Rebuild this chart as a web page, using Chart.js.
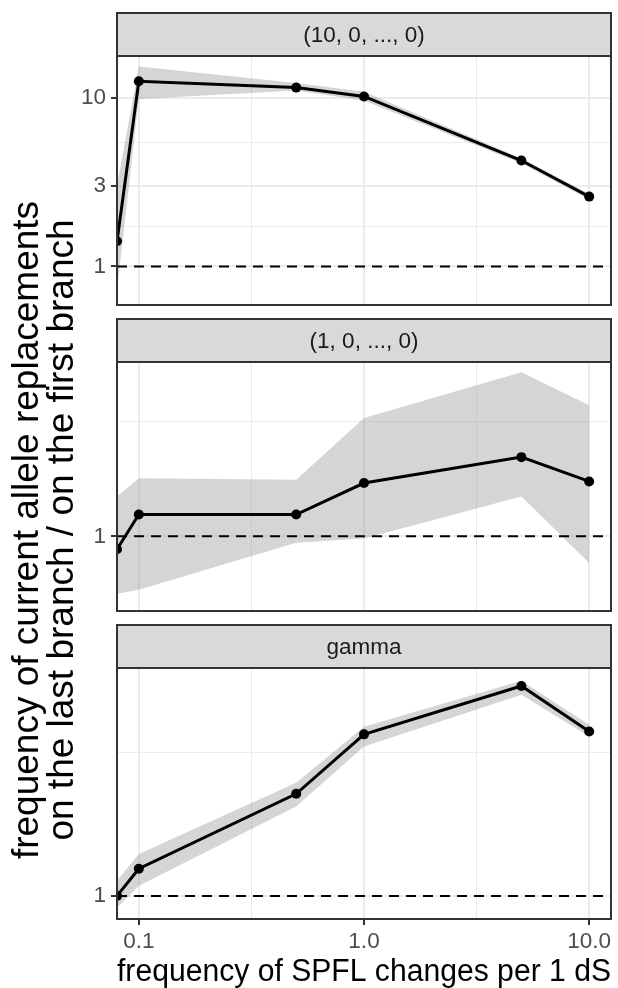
<!DOCTYPE html>
<html>
<head>
<meta charset="utf-8">
<script src="https://cdn.jsdelivr.net/npm/chart.js@4.4.1/dist/chart.umd.min.js"></script>
<style>
  body { margin: 0; background: #fff; }
  #wrap { position: relative; width: 618px; height: 988px; overflow: hidden; font-family: "Liberation Sans", Arial, sans-serif; }
  #wrap canvas { position: absolute; left: 0; }
  #ytitle {
    position: absolute; left: -404px; top: 492px; width: 900px; height: 76px;
    transform: rotate(-90deg); transform-origin: 50% 50%;
    text-align: center; font-size: 37px; line-height: 35px; color: #000; white-space: nowrap;
  }
</style>
</head>
<body>
<div id="wrap">
  <canvas id="c1" width="618" height="310" style="top:0px"></canvas>
  <canvas id="c2" width="618" height="310" style="top:306px"></canvas>
  <canvas id="c3" width="618" height="376" style="top:612px"></canvas>
  <div id="ytitle">frequency of current allele replacements<br>on the last branch / on the first branch</div>
</div>
<script>
// SPFL change frequency (per 1 dS) on the x axis, shared by all panels
const xValues = [0.08, 0.1, 0.5, 1, 5, 10];
const xTicks = [0.1, 1, 10];
const xTickLabels = ['0.1', '1.0', '10.0'];
const xMinor = [0.3162, 3.162];

const panelTitles = ['(10, 0, ..., 0)', '(1, 0, ..., 0)', 'gamma'];

// (10, 0, ..., 0)
const meanTen  = [1.41, 12.6, 11.55, 10.23, 4.26, 2.6];
const upperTen = [3.0, 15.4, 12.3, 10.9, 4.4, 2.7];
const lowerTen = [0.72, 9.9, 11.1, 9.65, 4.1, 2.5];

// (1, 0, ..., 0)
const meanOne  = [0.94, 1.11, 1.11, 1.29, 1.46, 1.3];
const upperOne = [1.21, 1.32, 1.31, 1.76, 2.19, 1.87];
const lowerOne = [0.76, 0.775, 0.97, 0.99, 1.21, 0.88];

// gamma
const meanGamma  = [1.0, 1.11, 1.48, 1.86, 2.24, 1.88];
const upperGamma = [1.06, 1.175, 1.545, 1.915, 2.285, 1.93];
const lowerGamma = [0.955, 1.04, 1.41, 1.775, 2.165, 1.845];

const yTicks = [1, 3, 10];
const yMinor = [1.732, 5.477];
const refLevel = 1;

const FONT = '"Liberation Sans", Arial, sans-serif';

const panels = [
  { id: 'c1', title: panelTitles[0], mean: meanTen, upper: upperTen, lower: lowerTen, yMin: 0.59, yMax: 17.8, bottom: false },
  { id: 'c2', title: panelTitles[1], mean: meanOne, upper: upperOne, lower: lowerOne, yMin: 0.728, yMax: 2.30, bottom: false },
  { id: 'c3', title: panelTitles[2], mean: meanGamma, upper: upperGamma, lower: lowerGamma, yMin: 0.915, yMax: 2.40, bottom: true }
];

const isMajorX = v => xTicks.some(t => Math.abs(t - v) < 1e-9);
const isMajorY = v => yTicks.some(t => Math.abs(t - v) < 1e-9);

// facet strip on top + panel frame
const facetFrame = {
  id: 'facetFrame',
  afterDraw(chart, args, opts) {
    const { ctx, chartArea: a } = chart;
    ctx.save();
    ctx.fillStyle = '#D9D9D9';
    ctx.fillRect(a.left, 13, a.right - a.left, a.top - 13);
    ctx.strokeStyle = '#333333';
    ctx.lineWidth = 2;
    ctx.strokeRect(a.left, 13, a.right - a.left, a.top - 13);
    ctx.strokeRect(a.left, a.top, a.right - a.left, a.bottom - a.top);
    ctx.fillStyle = '#1A1A1A';
    ctx.font = '22.5px ' + FONT;
    ctx.textAlign = 'center';
    ctx.textBaseline = 'middle';
    ctx.fillText(opts.title, (a.left + a.right) / 2, (13 + a.top) / 2 + 1);
    ctx.restore();
  }
};

function makeChart(p) {
  const pts = arr => xValues.map((x, i) => ({ x: x, y: arr[i] }));
  const yAll = yTicks.concat(yMinor).filter(v => v >= p.yMin && v <= p.yMax).sort((a, b) => a - b);
  const xAll = xTicks.concat(xMinor).sort((a, b) => a - b);

  return new Chart(document.getElementById(p.id), {
    type: 'line',
    data: {
      datasets: [
        {
          data: pts(p.mean), borderColor: '#000', borderWidth: 3,
          pointRadius: 5, pointBackgroundColor: '#000', pointBorderWidth: 0,
          tension: 0, fill: false, clip: 0
        },
        {
          data: [{ x: 0.08, y: refLevel }, { x: 12.5, y: refLevel }],
          borderColor: '#000', borderWidth: 2, borderDash: [10, 7],
          pointRadius: 0, fill: false, clip: 0
        },
        {
          data: pts(p.upper), borderWidth: 0, pointRadius: 0,
          backgroundColor: 'rgba(150,150,150,0.4)', fill: '+1', tension: 0, clip: 0
        },
        {
          data: pts(p.lower), borderWidth: 0, pointRadius: 0, fill: false, tension: 0, clip: 0
        }
      ]
    },
    options: {
      responsive: false,
      animation: false,
      events: [],
      layout: { padding: { left: 57, right: 7, top: 56, bottom: p.bottom ? 0 : 4 } },
      plugins: {
        legend: { display: false },
        tooltip: { enabled: false },
        facetFrame: { title: p.title }
      },
      scales: {
        x: {
          type: 'logarithmic', min: 0.08, max: 12.5,
          afterBuildTicks: s => { s.ticks = xAll.map(v => ({ value: v })); },
          afterFit: s => { s.height = p.bottom ? 69 : 0; s.paddingLeft = 0; s.paddingRight = 0; },
          border: { display: false },
          grid: {
            color: '#EBEBEB',
            lineWidth: c => (c.tick && isMajorX(c.tick.value)) ? 2 : 1,
            drawTicks: p.bottom, tickLength: 6, tickWidth: 2,
            tickColor: c => (c.tick && isMajorX(c.tick.value)) ? '#333333' : 'rgba(0,0,0,0)'
          },
          ticks: {
            display: p.bottom, color: '#4D4D4D', padding: 3, maxRotation: 0, autoSkip: false,
            font: { family: FONT, size: 22.5 },
            callback: v => { const i = xTicks.findIndex(t => Math.abs(t - v) < 1e-9); return i >= 0 ? xTickLabels[i] : ''; }
          },
          title: {
            display: p.bottom, text: 'frequency of SPFL changes per 1 dS', color: '#000',
            font: { family: FONT, size: 31, lineHeight: 1 }, padding: { top: 0, bottom: 0 }
          }
        },
        y: {
          type: 'logarithmic', min: p.yMin, max: p.yMax,
          afterBuildTicks: s => { s.ticks = yAll.map(v => ({ value: v })); },
          afterFit: s => { s.width = 60; s.paddingTop = 0; s.paddingBottom = 0; },
          border: { display: false },
          grid: {
            color: '#EBEBEB',
            lineWidth: c => (c.tick && isMajorY(c.tick.value)) ? 2 : 1,
            tickLength: 6, tickWidth: 2,
            tickColor: c => (c.tick && isMajorY(c.tick.value)) ? '#333333' : 'rgba(0,0,0,0)'
          },
          ticks: {
            color: '#4D4D4D', padding: 5, autoSkip: false,
            font: { family: FONT, size: 22.5 },
            callback: v => isMajorY(v) ? String(v) : ''
          }
        }
      }
    },
    plugins: [facetFrame]
  });
}

panels.forEach(makeChart);
</script>
</body>
</html>
